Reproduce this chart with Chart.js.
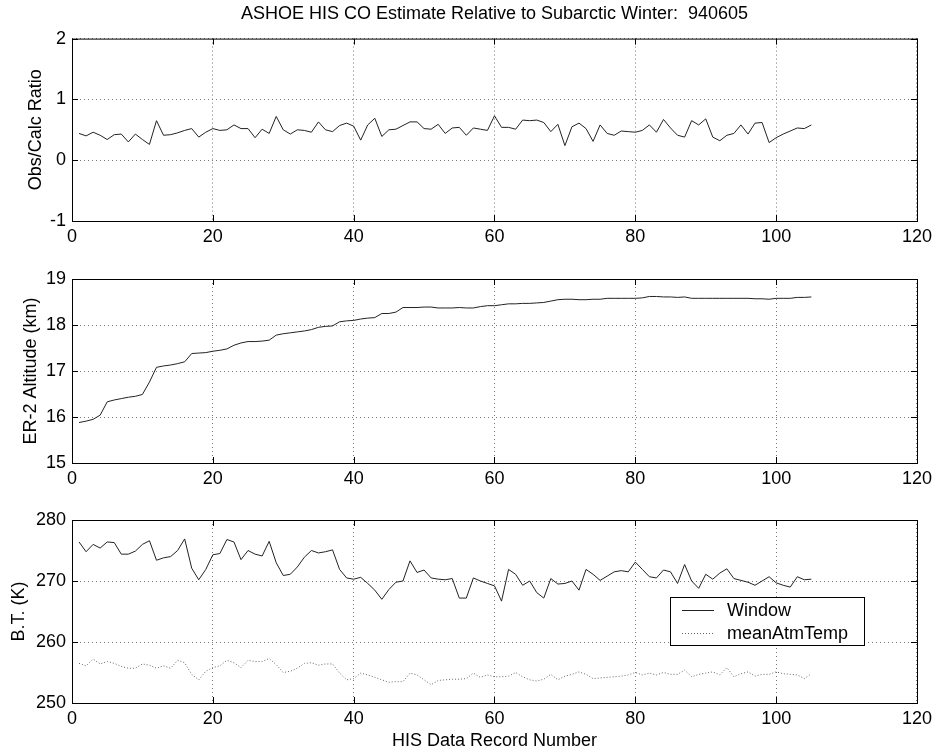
<!DOCTYPE html>
<html>
<head>
<meta charset="utf-8">
<title>ASHOE HIS CO Estimate</title>
<script src="https://cdn.jsdelivr.net/npm/chart.js@4.4.0/dist/chart.umd.min.js"></script>
<style>
  body { margin: 0; background: #fff; }
  canvas { position: absolute; left: 0; }
</style>
</head>
<body>
<canvas id="ratioChart" width="937" height="250" style="top:0px"></canvas>
<canvas id="altChart" width="937" height="240" style="top:250px"></canvas>
<canvas id="btChart" width="937" height="266" style="top:490px"></canvas>
<script>
// values, one per HIS record (1..105)
const obsCalcRatio = [
  0.44, 0.40, 0.46, 0.41, 0.34, 0.42, 0.43, 0.30, 0.43, 0.34,
  0.26, 0.65, 0.41, 0.42, 0.45, 0.49, 0.52, 0.38, 0.46, 0.52,
  0.49, 0.50, 0.58, 0.52, 0.52, 0.37, 0.51, 0.44, 0.72, 0.50,
  0.43, 0.50, 0.49, 0.46, 0.63, 0.50, 0.47, 0.57, 0.61, 0.56,
  0.33, 0.58, 0.69, 0.39, 0.50, 0.51, 0.57, 0.63, 0.63, 0.52,
  0.51, 0.59, 0.44, 0.53, 0.54, 0.41, 0.53, 0.51, 0.49, 0.73,
  0.54, 0.54, 0.51, 0.66, 0.65, 0.66, 0.62, 0.47, 0.59, 0.24,
  0.55, 0.61, 0.52, 0.31, 0.58, 0.44, 0.41, 0.48, 0.47, 0.46,
  0.49, 0.58, 0.46, 0.67, 0.53, 0.41, 0.38, 0.65, 0.58, 0.68,
  0.38, 0.32, 0.41, 0.44, 0.58, 0.43, 0.61, 0.62, 0.29, 0.37,
  0.43, 0.48, 0.53, 0.52, 0.58
];

const er2Altitude = [
  15.88, 15.91, 15.95, 16.04, 16.33, 16.37, 16.40, 16.43, 16.45, 16.49,
  16.76, 17.08, 17.11, 17.13, 17.16, 17.20, 17.38, 17.39, 17.40, 17.43,
  17.45, 17.48, 17.56, 17.61, 17.64, 17.64, 17.65, 17.67, 17.78, 17.81,
  17.83, 17.85, 17.87, 17.90, 17.95, 17.97, 17.98, 18.07, 18.09, 18.10,
  18.13, 18.15, 18.16, 18.25, 18.25, 18.28, 18.38, 18.38, 18.38, 18.39,
  18.39, 18.37, 18.37, 18.37, 18.38, 18.37, 18.37, 18.40, 18.42, 18.42,
  18.44, 18.46, 18.46, 18.47, 18.47, 18.48, 18.49, 18.52, 18.55, 18.56,
  18.56, 18.55, 18.55, 18.56, 18.56, 18.58, 18.58, 18.58, 18.58, 18.58,
  18.59, 18.62, 18.62, 18.61, 18.61, 18.60, 18.61, 18.58, 18.58, 18.58,
  18.58, 18.58, 18.58, 18.58, 18.58, 18.58, 18.57, 18.57, 18.56, 18.58,
  18.58, 18.58, 18.60, 18.60, 18.61
];

const windowBT = [
  276.4, 274.8, 276.0, 275.4, 276.4, 276.3, 274.4, 274.4, 274.9, 276.0,
  276.6, 273.4, 273.8, 274.0, 275.0, 276.9, 272.1, 270.2, 271.9, 274.3,
  274.5, 276.8, 276.4, 273.5, 275.0, 274.4, 274.1, 276.5, 273.0, 270.9,
  271.1, 272.3, 273.9, 275.0, 274.6, 274.8, 275.1, 271.9, 270.5, 270.3,
  270.6, 269.6, 268.5, 267.0, 268.6, 269.8, 270.0, 273.3, 271.4, 271.8,
  270.5, 270.3, 270.2, 270.4, 267.2, 267.2, 270.5, 270.0, 269.6, 269.2,
  266.7, 271.9, 271.1, 269.3, 270.0, 268.1, 267.2, 270.4, 269.5, 269.6,
  270.0, 268.5, 271.9, 271.1, 270.1, 270.8, 271.5, 271.7, 271.5, 273.1,
  271.9, 270.7, 270.5, 271.8, 271.5, 269.6, 272.7, 270.0, 268.8, 271.1,
  270.3, 271.3, 272.0, 270.4, 270.1, 269.8, 269.3, 270.0, 270.7, 269.7,
  269.3, 269.0, 270.7, 270.2, 270.3
];

const meanAtmTemp = [
  256.5, 256.1, 257.2, 256.4, 256.8, 256.5, 256.0, 255.7, 255.7, 256.4,
  256.2, 255.7, 256.1, 255.7, 257.0, 256.6, 254.7, 253.8, 255.2, 255.8,
  256.1, 257.0, 256.6, 255.8, 257.0, 256.8, 256.8, 257.3, 256.3, 255.0,
  255.2, 255.7, 256.5, 256.6, 256.2, 256.4, 256.4, 254.9, 253.8, 254.0,
  254.9, 254.6, 254.2, 253.8, 253.4, 253.5, 253.5, 254.9, 254.6, 253.8,
  253.0, 253.7, 253.8, 253.9, 253.9, 254.0, 254.9, 254.2, 254.6, 254.3,
  254.3, 254.4, 255.0, 254.3, 253.8, 253.6, 253.9, 254.7, 253.8, 254.4,
  254.7, 255.1, 254.7, 254.0, 254.1, 254.2, 254.3, 254.4, 254.6, 255.0,
  254.6, 254.9, 254.6, 255.0, 254.7, 254.7, 255.4, 254.3, 254.7, 254.9,
  255.1, 254.6, 255.8, 254.3, 254.8, 255.1, 254.4, 254.7, 254.7, 255.1,
  254.8, 254.7, 254.6, 254.0, 254.8
];

const xTicks = [0, 20, 40, 60, 80, 100, 120];
const ratioTicks = [-1, 0, 1, 2];
const altTicks = [15, 16, 17, 18, 19];
const btTicks = [250, 260, 270, 280];

const FONT = 'Arial, "Liberation Sans", Helvetica, sans-serif';
Chart.defaults.font.family = FONT;
Chart.defaults.font.size = 18;
Chart.defaults.color = '#000';

function series(values) {
  return values.map((v, i) => ({ x: i + 1, y: v }));
}

// matlab style box with inward tick marks
const framePlugin = {
  id: 'frame',
  afterDatasetsDraw(chart) {
    const { ctx, chartArea: a, scales } = chart;
    ctx.save();
    ctx.strokeStyle = '#000';
    ctx.lineWidth = 1;
    ctx.strokeRect(a.left + 0.5, a.top + 0.5, a.right - a.left, a.bottom - a.top);
    ctx.beginPath();
    scales.x.ticks.forEach(t => {
      const px = Math.round(scales.x.getPixelForValue(t.value)) + 0.5;
      ctx.moveTo(px, a.bottom); ctx.lineTo(px, a.bottom - 6);
      ctx.moveTo(px, a.top); ctx.lineTo(px, a.top + 6);
    });
    scales.y.ticks.forEach(t => {
      const py = Math.round(scales.y.getPixelForValue(t.value)) + 0.5;
      ctx.moveTo(a.left, py); ctx.lineTo(a.left + 6, py);
      ctx.moveTo(a.right, py); ctx.lineTo(a.right - 6, py);
    });
    ctx.stroke();
    ctx.restore();
  }
};

// boxed legend inside the lower axes
const boxLegend = {
  id: 'boxLegend',
  afterDraw(chart) {
    const { ctx, chartArea: a } = chart;
    const x0 = a.left + 598, y0 = a.top + 77, w = 194, h = 48;
    ctx.save();
    ctx.fillStyle = '#fff';
    ctx.fillRect(x0, y0, w, h);
    ctx.strokeStyle = '#000';
    ctx.lineWidth = 1;
    ctx.strokeRect(x0 + 0.5, y0 + 0.5, w, h);
    ctx.font = '18px ' + FONT;
    ctx.fillStyle = '#000';
    ctx.textBaseline = 'middle';
    chart.data.datasets.forEach((ds, i) => {
      const y = y0 + 13 + i * 23;
      ctx.beginPath();
      ctx.strokeStyle = ds.borderColor;
      ctx.setLineDash(ds.borderDash || []);
      ctx.moveTo(x0 + 12, y + 0.5);
      ctx.lineTo(x0 + 44, y + 0.5);
      ctx.stroke();
      ctx.setLineDash([]);
      ctx.fillText(ds.label, x0 + 57, y + 1);
    });
    ctx.restore();
  }
};

function panelOptions(cfg) {
  return {
    responsive: false,
    animation: false,
    devicePixelRatio: 1,
    layout: { padding: { top: cfg.top, right: 19, left: 0, bottom: 0 } },
    plugins: {
      legend: { display: false },
      tooltip: { enabled: false },
      title: cfg.title ? {
        display: true,
        text: cfg.title,
        fullSize: false,
        font: { size: 18, weight: 'normal' },
        color: '#000',
        padding: { top: 3, bottom: 14 }
      } : { display: false }
    },
    scales: {
      x: {
        type: 'linear',
        min: 0,
        max: 120,
        afterBuildTicks: s => { s.ticks = xTicks.map(v => ({ value: v })); },
        afterFit: s => { s.height = cfg.xHeight; },
        ticks: { padding: 5, maxRotation: 0 },
        grid: { color: '#777', lineWidth: 1, drawTicks: false },
        border: { display: false, dash: [1, 3] },
        title: cfg.xTitle ? {
          display: true,
          text: cfg.xTitle,
          font: { size: 18 },
          padding: { top: 0, bottom: 4 }
        } : { display: false }
      },
      y: {
        min: cfg.ticks[0],
        max: cfg.ticks[cfg.ticks.length - 1],
        afterBuildTicks: s => { s.ticks = cfg.ticks.map(v => ({ value: v })); },
        afterFit: s => { s.width = 72; },
        ticks: { padding: 6 },
        grid: { color: '#777', lineWidth: 1, drawTicks: false },
        border: { display: false, dash: [1, 3] },
        title: {
          display: true,
          text: cfg.yTitle,
          font: { size: 18 },
          padding: { top: cfg.yTitlePad, bottom: 0 }
        }
      }
    }
  };
}

new Chart(document.getElementById('ratioChart'), {
  type: 'line',
  data: {
    datasets: [{
      label: 'Obs/Calc Ratio',
      data: series(obsCalcRatio),
      borderColor: '#222',
      borderWidth: 1,
      pointRadius: 0,
      tension: 0
    }]
  },
  options: panelOptions({
    title: 'ASHOE HIS CO Estimate Relative to Subarctic Winter:  940605',
    top: 0, xHeight: 29, ticks: ratioTicks, yTitle: 'Obs/Calc Ratio', yTitlePad: 25
  }),
  plugins: [framePlugin]
});

new Chart(document.getElementById('altChart'), {
  type: 'line',
  data: {
    datasets: [{
      label: 'ER-2 Altitude',
      data: series(er2Altitude),
      borderColor: '#222',
      borderWidth: 1,
      pointRadius: 0,
      tension: 0
    }]
  },
  options: panelOptions({
    top: 29, xHeight: 27, ticks: altTicks, yTitle: 'ER-2 Altitude (km)', yTitlePad: 20
  }),
  plugins: [framePlugin]
});

new Chart(document.getElementById('btChart'), {
  type: 'line',
  data: {
    datasets: [
      {
        label: 'Window',
        data: series(windowBT),
        borderColor: '#222',
        borderWidth: 1,
        pointRadius: 0,
        tension: 0
      },
      {
        label: 'meanAtmTemp',
        data: series(meanAtmTemp),
        borderColor: '#666',
        borderWidth: 1,
        borderDash: [1, 2],
        pointRadius: 0,
        tension: 0
      }
    ]
  },
  options: panelOptions({
    top: 30, xHeight: 53, ticks: btTicks, yTitle: 'B.T. (K)', yTitlePad: 8,
    xTitle: 'HIS Data Record Number'
  }),
  plugins: [framePlugin, boxLegend]
});
</script>
</body>
</html>
